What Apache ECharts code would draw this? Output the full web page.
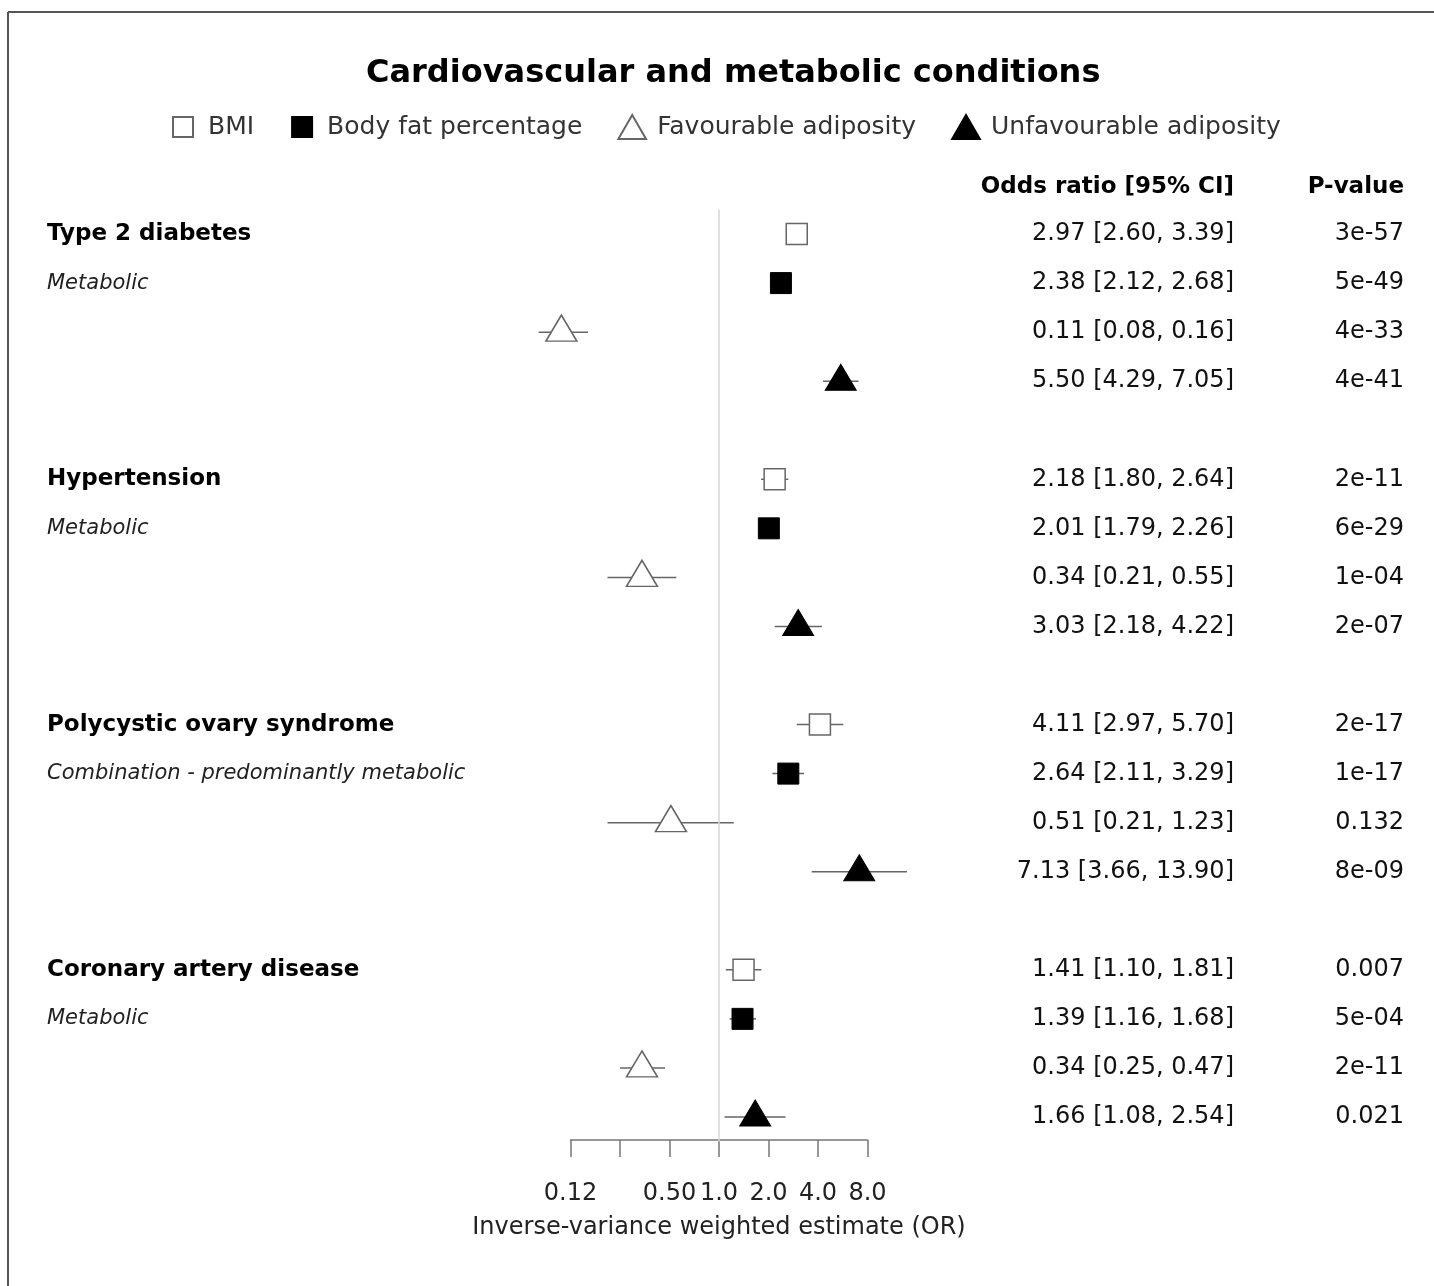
<!DOCTYPE html>
<html>
<head>
<meta charset="utf-8">
<title>Cardiovascular and metabolic conditions</title>
<script src="https://cdn.jsdelivr.net/npm/echarts@6/dist/echarts.min.js"></script>
<style>
html, body { margin: 0; padding: 0; background: #fff; }
#chart { width: 1434px; height: 1286px; }
</style>
</head>
<body>
<div id="chart"></div>
<script>
const outcomes = ['Type 2 diabetes', 'Hypertension', 'Polycystic ovary syndrome', 'Coronary artery disease'];
const outcomeTypes = ['Metabolic', 'Metabolic', 'Combination - predominantly metabolic', 'Metabolic'];
const exposures = ['BMI', 'Body fat percentage', 'Favourable adiposity', 'Unfavourable adiposity'];

// one value per outcome, same order as outcomes
const bmiOR = [2.97, 2.18, 4.11, 1.41];
const bmiLow = [2.60, 1.80, 2.97, 1.10];
const bmiHigh = [3.39, 2.64, 5.70, 1.81];
const bmiP = ['3e-57', '2e-11', '2e-17', '0.007'];

const fatOR = [2.38, 2.01, 2.64, 1.39];
const fatLow = [2.12, 1.79, 2.11, 1.16];
const fatHigh = [2.68, 2.26, 3.29, 1.68];
const fatP = ['5e-49', '6e-29', '1e-17', '5e-04'];

const favOR = [0.11, 0.34, 0.51, 0.34];
const favLow = [0.08, 0.21, 0.21, 0.25];
const favHigh = [0.16, 0.55, 1.23, 0.47];
const favP = ['4e-33', '1e-04', '0.132', '2e-11'];

const unfavOR = [5.50, 3.03, 7.13, 1.66];
const unfavLow = [4.29, 2.18, 3.66, 1.08];
const unfavHigh = [7.05, 4.22, 13.90, 2.54];
const unfavP = ['4e-41', '2e-07', '8e-09', '0.021'];

const tickLabels = ['0.12', '', '0.50', '1.0', '2.0', '4.0', '8.0'];

const FONT = 'DejaVu Sans';
const est = [bmiOR, fatOR, favOR, unfavOR];
const low = [bmiLow, fatLow, favLow, unfavLow];
const high = [bmiHigh, fatHigh, favHigh, unfavHigh];
const pvals = [bmiP, fatP, favP, unfavP];

// 4 rows per outcome + blank row between outcomes
const nRows = outcomes.length * 5 - 1;
const rowIds = [];
const leftLabels = [];
const orLabels = [];
const pLabels = [];
for (let r = 0; r < nRows; r++) {
  const g = Math.floor(r / 5), e = r % 5;
  rowIds.push('r' + r);
  leftLabels.push(e === 0 ? '{b|' + outcomes[g] + '}' : e === 1 ? '{i|' + outcomeTypes[g] + '}' : '');
  if (e < 4) {
    orLabels.push(est[e][g].toFixed(2) + ' [' + low[e][g].toFixed(2) + ', ' + high[e][g].toFixed(2) + ']');
    pLabels.push(pvals[e][g]);
  } else {
    orLabels.push('');
    pLabels.push('');
  }
}

const whiskers = [];
for (let e = 0; e < 4; e++) {
  for (let g = 0; g < outcomes.length; g++) {
    whiskers.push([low[e][g], high[e][g], g * 5 + e]);
  }
}
function points(e) {
  return outcomes.map((o, g) => [est[e][g], g * 5 + e]);
}

const squareIcon = 'path://M-1,-1M11,11M0,0H10V10H0Z';
const triIcon = 'path://M5,0L10,8.66L0,8.66Z';
const openStyle = { color: '#fff', borderColor: '#666', borderWidth: 1.5, opacity: 1 };
const filledStyle = { color: '#000', borderColor: '#000', borderWidth: 1, opacity: 1 };

const chart = echarts.init(document.getElementById('chart'));

chart.setOption({
  animation: false,
  backgroundColor: '#fff',
  title: {
    text: 'Cardiovascular and metabolic conditions',
    left: 361,
    top: 53,
    textStyle: { fontFamily: FONT, fontWeight: 'bold', fontSize: 32, color: '#000' }
  },
  legend: {
    left: 165,
    top: 109,
    itemWidth: 30,
    itemHeight: 24,
    itemGap: 35,
    selectedMode: false,
    data: [
      { name: exposures[0], icon: squareIcon },
      { name: exposures[1], icon: squareIcon },
      { name: exposures[2], icon: triIcon },
      { name: exposures[3], icon: triIcon }
    ],
    textStyle: { fontFamily: FONT, fontSize: 25, color: '#333', padding: [0, 0, 0, 5] }
  },
  graphic: [
    { type: 'line', shape: { x1: 8, y1: 12, x2: 1434, y2: 12 }, style: { stroke: '#555', lineWidth: 2 } },
    { type: 'line', shape: { x1: 8, y1: 12, x2: 8, y2: 1286 }, style: { stroke: '#555', lineWidth: 2 } }
  ],
  grid: [
    { left: 521, width: 396, top: 209.5, height: 932 },
    { left: 570.5, width: 297, top: 1139, height: 1 }
  ],
  xAxis: [
    {
      gridIndex: 0, type: 'log', logBase: 2, min: 0.0625, max: 16, show: false
    },
    {
      gridIndex: 1, type: 'log', logBase: 2, min: 0.125, max: 8, splitNumber: 6,
      position: 'bottom',
      axisLine: { lineStyle: { color: '#777', width: 1.5 } },
      axisTick: { length: 17, lineStyle: { color: '#777', width: 1.5 } },
      splitLine: { show: false },
      axisLabel: {
        margin: 42, fontFamily: FONT, fontSize: 24, color: '#222',
        formatter: (v, i) => tickLabels[i]
      },
      name: 'Inverse-variance weighted estimate (OR)',
      nameLocation: 'middle',
      nameGap: 76,
      nameTextStyle: { fontFamily: FONT, fontSize: 24, color: '#222' }
    }
  ],
  yAxis: [
    {
      gridIndex: 0, type: 'category', data: rowIds, inverse: true, position: 'left',
      axisLine: { show: false }, axisTick: { show: false }, splitLine: { show: false },
      axisLabel: {
        align: 'left', margin: 474, interval: 0,
        formatter: (v, i) => leftLabels[i],
        rich: {
          b: { fontFamily: FONT, fontWeight: 'bold', fontSize: 23, color: '#000' },
          i: { fontFamily: FONT, fontStyle: 'italic', fontSize: 21, color: '#222' }
        }
      }
    },
    {
      gridIndex: 0, type: 'category', data: rowIds, inverse: true, position: 'right', offset: 317,
      axisLine: { show: false }, axisTick: { show: false }, splitLine: { show: false },
      axisLabel: {
        align: 'right', margin: 0, interval: 0,
        fontFamily: FONT, fontSize: 24, color: '#111',
        formatter: (v, i) => orLabels[i]
      },
      name: 'Odds ratio [95% CI]',
      nameLocation: 'start',
      nameGap: 22,
      nameTextStyle: { fontFamily: FONT, fontWeight: 'bold', fontSize: 23, color: '#000', align: 'right', verticalAlign: 'middle' }
    },
    {
      gridIndex: 0, type: 'category', data: rowIds, inverse: true, position: 'right', offset: 487,
      axisLine: { show: false }, axisTick: { show: false }, splitLine: { show: false },
      axisLabel: {
        align: 'right', margin: 0, interval: 0,
        fontFamily: FONT, fontSize: 24, color: '#111',
        formatter: (v, i) => pLabels[i]
      },
      name: 'P-value',
      nameLocation: 'start',
      nameGap: 22,
      nameTextStyle: { fontFamily: FONT, fontWeight: 'bold', fontSize: 23, color: '#000', align: 'right', verticalAlign: 'middle' }
    },
    { gridIndex: 1, type: 'value', show: false }
  ],
  series: [
    {
      name: 'ref',
      type: 'line',
      xAxisIndex: 0, yAxisIndex: 0,
      data: [],
      z: 1,
      markLine: {
        silent: true,
        symbol: ['none', 'none'],
        label: { show: false },
        lineStyle: { color: '#d6d6d6', width: 1.5, type: 'solid' },
        data: [{ xAxis: 1 }]
      }
    },
    {
      name: 'ci',
      type: 'custom',
      xAxisIndex: 0, yAxisIndex: 0,
      z: 2,
      encode: { x: [0, 1], y: 2 },
      data: whiskers,
      renderItem: function (params, api) {
        const a = api.coord([api.value(0), api.value(2)]);
        const b = api.coord([api.value(1), api.value(2)]);
        return {
          type: 'line',
          shape: { x1: a[0], y1: a[1], x2: b[0], y2: b[1] },
          style: { stroke: '#666', lineWidth: 1.5 }
        };
      }
    },
    {
      name: exposures[0], type: 'scatter', xAxisIndex: 0, yAxisIndex: 0, z: 3, clip: false,
      symbol: 'rect', symbolSize: 21, itemStyle: openStyle, data: points(0)
    },
    {
      name: exposures[1], type: 'scatter', xAxisIndex: 0, yAxisIndex: 0, z: 3, clip: false,
      symbol: 'rect', symbolSize: 21, itemStyle: filledStyle, data: points(1)
    },
    {
      name: exposures[2], type: 'scatter', xAxisIndex: 0, yAxisIndex: 0, z: 3, clip: false,
      symbol: 'triangle', symbolSize: [31, 26], symbolOffset: [0, -4], itemStyle: openStyle, data: points(2)
    },
    {
      name: exposures[3], type: 'scatter', xAxisIndex: 0, yAxisIndex: 0, z: 3, clip: false,
      symbol: 'triangle', symbolSize: [31, 26], symbolOffset: [0, -4], itemStyle: filledStyle, data: points(3)
    }
  ]
});
</script>
</body>
</html>
